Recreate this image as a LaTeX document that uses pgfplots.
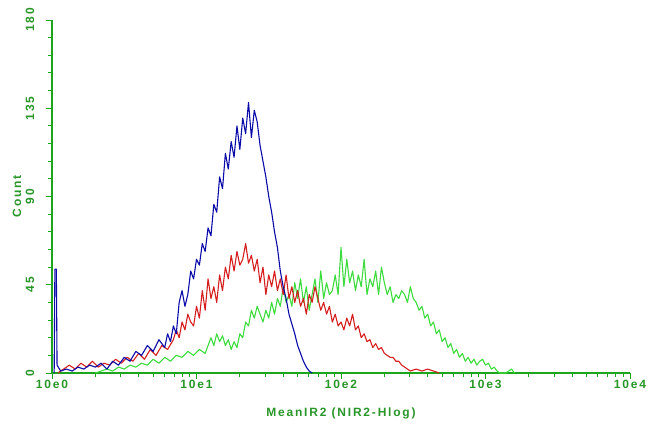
\documentclass[border=0pt]{standalone}
\usepackage{pgfplots}
\pgfplotsset{compat=1.18}
\usepackage{fontspec}
\setmainfont{Liberation Sans}
\newfontfamily\lblfont[LetterSpace=15]{Liberation Sans}
\definecolor{axgreen}{RGB}{30,165,30}
\definecolor{txtgreen}{RGB}{40,150,40}
\definecolor{cblue}{RGB}{10,10,170}
\definecolor{cred}{RGB}{215,30,30}
\definecolor{cgreen}{RGB}{60,220,60}
\begin{document}
\begin{tikzpicture}[x=1pt,y=1pt]
\path[use as bounding box] (-52,-51) rectangle (598,373);
\begin{axis}[
  at={(0,0)}, anchor=south west,
  scale only axis, width=578pt, height=353pt,
  xmin=0, xmax=4, ymin=0, ymax=180,
  enlargelimits=false,
  axis x line=bottom, axis y line=left,
  axis line style={axgreen, line width=1.2pt, -},
  every tick/.style={axgreen, line width=1pt},
  xtick={0,1,2,3,4},
  xticklabels={10e0,10e1,10e2,10e3,10e4},
  minor xtick={0.301,0.477,0.602,0.699,0.778,0.845,0.903,0.954,
               1.301,1.477,1.602,1.699,1.778,1.845,1.903,1.954,
               2.301,2.477,2.602,2.699,2.778,2.845,2.903,2.954,
               3.301,3.477,3.602,3.699,3.778,3.845,3.903,3.954},
  ytick={0,45,90,135,180},
  yticklabels={0,45,90,135,180},
  minor ytick={9,18,27,36,54,63,72,81,99,108,117,126,144,153,162,171},
  tick align=outside,
  major tick length=6pt, minor tick length=4pt,
  xticklabel style={font=\fontsize{12}{14}\selectfont\lblfont\bfseries, text=txtgreen, anchor=north, yshift=2pt},
  yticklabel style={font=\fontsize{12}{14}\selectfont\lblfont\bfseries, text=txtgreen, rotate=90, anchor=center, yshift=16pt},
  xlabel={MeanIR2 (NIR2-Hlog)},
  ylabel={Count},
  xlabel style={font=\fontsize{12}{14}\selectfont\lblfont\bfseries, text=txtgreen, at={(axis description cs:0.5,0)}, anchor=center, yshift=-40pt},
  ylabel style={font=\fontsize{12}{14}\selectfont\lblfont\bfseries, text=txtgreen, at={(axis description cs:0,0.5)}, anchor=center, yshift=35pt},
  clip=false,
]
% green series
\addplot[cgreen, line width=1.1pt, mark=none, line join=round] coordinates {
(0.30,0)(0.34,1)(0.38,2)(0.42,1)(0.46,3)(0.50,2)(0.54,4)(0.58,3)(0.62,5)(0.66,4)(0.70,7)(0.74,5)(0.78,8)(0.82,6)(0.86,9)(0.90,8)(0.94,11)(0.98,9)(1.02,12)(1.06,10)(1.10,18)(1.12,14)(1.14,20)(1.16,16)(1.18,19)(1.20,14)(1.22,17)(1.24,12)(1.26,16)(1.28,13)(1.30,20)(1.32,18)(1.34,26)(1.36,24)(1.38,32)(1.40,28)(1.42,34)(1.44,30)(1.46,26)(1.48,32)(1.50,28)(1.52,36)(1.54,30)(1.56,38)(1.58,34)(1.60,44)(1.62,36)(1.64,40)(1.66,34)(1.68,46)(1.70,38)(1.72,48)(1.74,36)(1.76,44)(1.78,32)(1.80,40)(1.82,48)(1.84,36)(1.86,52)(1.88,38)(1.90,46)(1.92,40)(1.94,42)(1.96,50)(1.98,40)(2.00,64)(2.02,44)(2.04,58)(2.06,46)(2.08,52)(2.10,42)(2.12,50)(2.14,44)(2.16,58)(2.18,40)(2.20,48)(2.22,44)(2.24,52)(2.26,40)(2.28,54)(2.30,46)(2.32,40)(2.34,44)(2.36,36)(2.38,40)(2.40,38)(2.42,42)(2.44,40)(2.46,36)(2.48,44)(2.50,38)(2.52,36)(2.54,32)(2.56,34)(2.58,28)(2.60,30)(2.62,24)(2.64,26)(2.66,20)(2.68,22)(2.70,16)(2.72,18)(2.74,13)(2.76,15)(2.78,10)(2.80,12)(2.82,8)(2.84,10)(2.86,6)(2.88,8)(2.90,5)(2.92,7)(2.94,4)(2.96,6)(2.98,7)(3.00,4)(3.02,5)(3.04,2)(3.06,3)(3.08,1)(3.10,0)(3.14,0)(3.18,2)(3.20,0)
};
% red series
\addplot[cred, line width=1.1pt, mark=none, line join=round] coordinates {
(0.04,0)(0.08,2)(0.12,4)(0.16,2)(0.20,5)(0.24,3)(0.28,6)(0.32,3)(0.36,5)(0.40,4)(0.44,7)(0.48,5)(0.52,8)(0.56,6)(0.60,10)(0.64,7)(0.68,12)(0.72,9)(0.76,14)(0.80,12)(0.84,17)(0.86,22)(0.88,18)(0.90,26)(0.92,22)(0.94,30)(0.96,26)(0.98,24)(1.00,34)(1.02,28)(1.04,42)(1.06,32)(1.08,48)(1.10,38)(1.12,44)(1.14,36)(1.16,50)(1.18,42)(1.20,54)(1.22,48)(1.24,60)(1.26,52)(1.28,62)(1.30,55)(1.32,58)(1.34,66)(1.36,56)(1.38,60)(1.40,52)(1.42,58)(1.44,46)(1.46,54)(1.48,40)(1.50,50)(1.52,44)(1.54,52)(1.56,42)(1.58,48)(1.60,40)(1.62,50)(1.64,38)(1.66,44)(1.68,36)(1.70,42)(1.72,34)(1.74,38)(1.76,30)(1.78,40)(1.80,36)(1.82,44)(1.84,38)(1.86,32)(1.88,36)(1.90,30)(1.92,34)(1.94,26)(1.96,30)(1.98,24)(2.00,26)(2.02,22)(2.04,28)(2.06,24)(2.08,30)(2.10,22)(2.12,24)(2.14,18)(2.16,20)(2.18,16)(2.20,17)(2.22,13)(2.24,15)(2.26,12)(2.28,13)(2.30,10)(2.32,9)(2.34,8)(2.36,8)(2.38,6)(2.40,6)(2.42,4)(2.44,3)(2.46,2)(2.48,1)(2.52,2)(2.56,1)(2.60,2)(2.64,1)(2.68,0)
};
% blue series
\addplot[cblue, line width=1.1pt, mark=none, line join=round] coordinates {
(0.015,0)(0.02,53)(0.03,53)(0.035,4)(0.06,1)(0.10,2)(0.14,1)(0.18,3)(0.22,2)(0.26,4)(0.30,3)(0.34,5)(0.38,2)(0.42,6)(0.46,4)(0.50,8)(0.54,6)(0.58,11)(0.62,9)(0.66,14)(0.70,11)(0.74,17)(0.78,13)(0.80,20)(0.82,16)(0.84,24)(0.86,20)(0.88,36)(0.90,42)(0.92,34)(0.94,40)(0.96,52)(0.98,48)(1.00,58)(1.02,55)(1.04,66)(1.06,62)(1.08,74)(1.10,70)(1.12,86)(1.14,82)(1.16,100)(1.18,94)(1.20,112)(1.22,104)(1.24,118)(1.26,110)(1.28,126)(1.30,114)(1.32,130)(1.34,122)(1.36,138)(1.38,120)(1.40,134)(1.42,128)(1.44,116)(1.46,108)(1.48,100)(1.50,90)(1.52,82)(1.54,72)(1.56,64)(1.58,52)(1.60,44)(1.62,38)(1.64,30)(1.66,25)(1.68,20)(1.70,14)(1.72,10)(1.74,6)(1.76,3)(1.78,1)(1.80,0)
};
\end{axis}
\end{tikzpicture}
\end{document}
